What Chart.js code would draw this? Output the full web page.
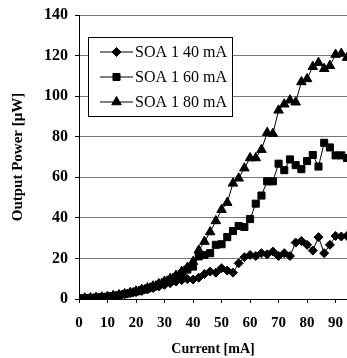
<!DOCTYPE html>
<html>
<head>
<meta charset="utf-8">
<script src="https://cdn.jsdelivr.net/npm/chart.js@4/dist/chart.umd.min.js"></script>
<style>
  body { margin: 0; background: #fff; }
  canvas { display: block; }
</style>
</head>
<body>
<canvas id="graph" width="347" height="358"></canvas>
<script>
  // drive current, mA
  const currents = [0, 2, 4, 6, 8, 10, 12, 14, 16, 18, 20, 22, 24, 26, 28, 30, 32, 34, 36, 38,
    40, 42, 44, 46, 48, 50, 52, 54, 56, 58, 60, 62, 64, 66, 68, 70, 72, 74, 76, 78,
    80, 82, 84, 86, 88, 90, 92, 94];

  // output power, uW
  const soa40 = [0.3, 0.4, 0.5, 0.6, 0.8, 1.0, 1.4, 1.8, 2.3, 2.8, 3.4, 4.0, 4.7, 5.4, 6.2, 7.0, 7.8, 8.6, 9.3, 9.8,
    9.6, 10.5, 12.3, 13.5, 13.0, 15.2, 14.0, 13.0, 17.6, 20.6, 21.7, 21.2, 22.6, 22.0, 23.4, 21.2, 22.6, 21.2, 27.8, 28.6,
    26.7, 23.9, 30.5, 22.6, 26.7, 31.1, 30.8, 31.1];
  const soa60 = [0.3, 0.4, 0.5, 0.7, 0.9, 1.1, 1.5, 1.9, 2.4, 3.0, 3.7, 4.4, 5.2, 6.1, 7.1, 8.2, 9.5, 10.8, 12.3, 14.5,
    16.0, 21.0, 21.7, 22.6, 26.7, 27.0, 30.5, 33.5, 36.0, 35.5, 39.4, 47.0, 51.0, 58.0, 58.0, 66.7, 63.5, 68.8, 66.0, 64.0,
    68.0, 71.0, 65.3, 77.0, 74.7, 70.8, 70.8, 69.5];
  const soa80 = [0.3, 0.4, 0.5, 0.7, 0.9, 1.2, 1.6, 2.0, 2.5, 3.1, 3.8, 4.6, 5.4, 6.3, 7.4, 8.6, 10.0, 11.6, 13.5, 15.5,
    18.4, 24.0, 28.3, 33.0, 38.5, 44.0, 47.5, 57.0, 59.5, 64.5, 69.5, 69.5, 73.6, 82.0, 81.5, 93.0, 96.0, 98.0, 97.0, 107.0,
    108.5, 114.5, 116.5, 113.5, 115.0, 120.5, 121.0, 119.0];

  const labels = ['SOA 1 40 mA', 'SOA 1 60 mA', 'SOA 1 80 mA'];
  const yTicks = [0, 20, 40, 60, 80, 100, 120, 140];

  const serif = '"Liberation Serif", "Times New Roman", serif';

  function series(label, values, style, radius) {
    return {
      label: label,
      data: currents.map((x, i) => ({ x: x, y: values[i] })),
      borderColor: '#000',
      backgroundColor: '#000',
      borderWidth: 1,
      pointStyle: style,
      pointRadius: radius,
      pointBorderWidth: 1,
      pointBackgroundColor: '#000',
      pointBorderColor: '#000',
      tension: 0
    };
  }

  // legend box drawn inside the plot, like the original
  const boxLegend = {
    id: 'boxLegend',
    afterDraw(chart) {
      const ctx = chart.ctx;
      ctx.save();
      ctx.fillStyle = '#fff';
      ctx.fillRect(88.5, 37.5, 144, 79);
      ctx.strokeStyle = '#000';
      ctx.lineWidth = 1;
      ctx.strokeRect(88.5, 37.5, 144, 79);
      chart.data.datasets.forEach((ds, i) => {
        const y = 52 + i * 25;
        ctx.strokeStyle = '#000';
        ctx.fillStyle = '#000';
        ctx.lineWidth = 1;
        ctx.beginPath();
        ctx.moveTo(100, y);
        ctx.lineTo(133, y);
        ctx.stroke();
        Chart.helpers.drawPoint(ctx, {
          pointStyle: ds.pointStyle, radius: ds.pointRadius, rotation: 0, borderWidth: 1
        }, 116.5, y);
        ctx.fillStyle = '#000';
        ctx.font = '16px ' + serif;
        ctx.textBaseline = 'middle';
        ctx.textAlign = 'left';
        ctx.fillText(ds.label, 135, y + 1);
      });
      ctx.restore();
    }
  };

  const data = {
    datasets: [
      series(labels[0], soa40, 'rectRot', 4.5),
      series(labels[1], soa60, 'rect', 5),
      series(labels[2], soa80, 'triangle', 5.5)
    ]
  };

  const config = {
    type: 'line',
    data: data,
    options: {
      responsive: false,
      animation: false,
      layout: { autoPadding: false, padding: { top: 15, right: 0, bottom: 0, left: 0 } },
      plugins: {
        legend: { display: false },
        tooltip: { enabled: false }
      },
      scales: {
        x: {
          type: 'linear',
          min: 0,
          max: 94,
          afterFit: (scale) => {
            scale.height = 59;
            scale.paddingRight = 0;
            scale.paddingLeft = 0;
          },
          border: { display: true, color: '#000', width: 1 },
          grid: { display: true, drawOnChartArea: false, drawTicks: true, tickLength: 4, tickColor: '#000' },
          ticks: {
            stepSize: 10,
            includeBounds: false,
            maxRotation: 0,
            padding: 11,
            color: '#000',
            font: { family: serif, size: 15, weight: 'bold' }
          },
          title: {
            display: true,
            text: 'Current [mA]',
            color: '#000',
            padding: { top: 0, bottom: 0 },
            font: { family: serif, size: 14, weight: 'bold' }
          }
        },
        y: {
          min: 0,
          max: 140,
          afterFit: (scale) => {
            scale.width = 79;
            scale.paddingTop = 0;
            scale.paddingBottom = 0;
          },
          afterBuildTicks: (scale) => { scale.ticks = yTicks.map(v => ({ value: v })); },
          border: { display: true, color: '#000', width: 1 },
          grid: { color: '#777', lineWidth: 1, tickLength: 4, tickColor: '#000' },
          ticks: {
            padding: 7,
            color: '#000',
            font: { family: serif, size: 16, weight: 'bold' }
          },
          title: {
            display: true,
            text: 'Output Power [μW]',
            color: '#000',
            padding: { top: 9, bottom: 0 },
            font: { family: serif, size: 15, weight: 'bold' }
          }
        }
      }
    },
    plugins: [boxLegend]
  };

  const ctx = document.getElementById('graph').getContext('2d');
  new Chart(ctx, config);
</script>
</body>
</html>
